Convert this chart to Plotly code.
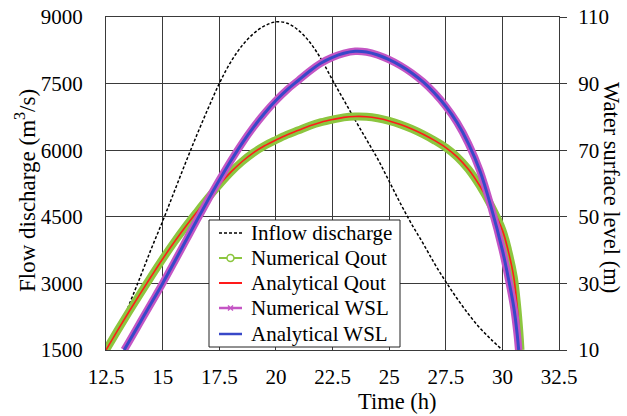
import plotly.graph_objects as go

# ---------------- data ----------------
inflow_t = [13.45, 14.0, 14.5, 15.0, 15.5, 16.0, 16.5, 17.0, 17.5, 18.0, 18.5, 19.0,
            19.5, 20.0, 20.5, 21.0, 21.5, 22.0, 22.5, 23.0, 23.5, 24.0, 24.5, 25.0,
            25.5, 26.0, 26.5, 27.0, 27.5, 28.0, 28.5, 29.0, 29.5, 30.0]
inflow_q = [2430, 3130, 3780, 4400, 5050, 5700, 6330, 6930, 7500, 7980, 8350, 8620,
            8800, 8890, 8860, 8700, 8430, 8050, 7580, 7130, 6680, 6240, 5800, 5300,
            4800, 4330, 3900, 3450, 3040, 2660, 2310, 2000, 1740, 1500]

qout_t = [12.5, 13.0, 13.5, 14.0, 14.5, 15.0, 15.5, 16.0, 16.5, 17.0, 17.5, 18.0,
          18.5, 19.0, 19.5, 20.0, 20.5, 21.0, 21.5, 22.0, 22.5, 23.0, 23.5, 24.0,
          24.5, 25.0, 25.5, 26.0, 26.5, 27.0, 27.5, 28.0, 28.5, 29.0, 29.5, 30.0,
          30.25, 30.5, 30.65, 30.75, 30.8]
qout_q = [1500, 1930, 2350, 2760, 3160, 3550, 3920, 4270, 4600, 4920, 5220, 5500,
          5740, 5940, 6100, 6230, 6350, 6450, 6550, 6630, 6690, 6740, 6760, 6755,
          6720, 6660, 6580, 6480, 6360, 6220, 6060, 5850, 5570, 5200, 4750, 4200,
          3750, 3150, 2500, 1900, 1500]

wsl_t = [13.3, 13.5, 14.0, 14.5, 15.0, 15.5, 16.0, 16.5, 17.0, 17.5, 18.0, 18.5,
         19.0, 19.5, 20.0, 20.5, 21.0, 21.5, 22.0, 22.5, 23.0, 23.5, 24.0, 24.5,
         25.0, 25.5, 26.0, 26.5, 27.0, 27.5, 28.0, 28.5, 29.0, 29.5, 30.0, 30.25,
         30.5, 30.65, 30.72]
wsl_h = [10, 12.3, 18.2, 24.1, 30, 36.2, 42.5, 48.8, 55, 61, 66.7, 72,
         76.8, 81.1, 84.9, 88.2, 91.0, 93.8, 96.2, 97.9, 99.1, 99.7, 99.5, 98.6,
         97.2, 95.4, 93.2, 90.5, 87.2, 83.2, 78.3, 72.0, 64, 53, 40, 32,
         23, 15, 10]

x_ticks = [12.5, 15, 17.5, 20, 22.5, 25, 27.5, 30, 32.5]
y1_ticks = [1500, 3000, 4500, 6000, 7500, 9000]
y2_ticks = [10, 30, 50, 70, 90, 110]

legend_names = ["Inflow discharge", "Numerical Qout", "Analytical Qout",
                "Numerical WSL", "Analytical WSL"]

# ---------------- styles ----------------
FONT = "Liberation Serif, Times New Roman, serif"
GRID = "#3a3a3a"
GREEN = "#8cc63f"
RED = "#ff1a1a"
MAGENTA = "#c455c4"
BLUE = "#3848c8"

W, H = 627, 416
L, R, T, B = 106, 68, 17, 66
PW, PH = W - L - R, H - T - B


def px(x):
    return (x - L) / PW


def py(y):
    return (H - B - y) / PH


fig = go.Figure()

fig.add_trace(go.Scatter(x=inflow_t, y=inflow_q, mode="lines", name=legend_names[0],
                         line=dict(color="black", width=1.5, dash="3px,2px"),
                         line_shape="spline"))
fig.add_trace(go.Scatter(x=qout_t, y=qout_q, mode="lines", name=legend_names[1],
                         line=dict(color=GREEN, width=8), line_shape="spline"))
fig.add_trace(go.Scatter(x=qout_t, y=qout_q, mode="lines", name=legend_names[2],
                         line=dict(color=RED, width=1.6), line_shape="spline"))
fig.add_trace(go.Scatter(x=wsl_t, y=wsl_h, mode="lines", name=legend_names[3], yaxis="y2",
                         line=dict(color=MAGENTA, width=7.5), line_shape="spline"))
fig.add_trace(go.Scatter(x=wsl_t, y=wsl_h, mode="lines", name=legend_names[4], yaxis="y2",
                         line=dict(color=BLUE, width=3), line_shape="spline"))

# ---------------- hand-drawn legend (box, samples, texts) ----------------
shapes = [dict(type="rect", xref="paper", yref="paper", layer="above",
               x0=px(209), x1=px(400), y0=py(347), y1=py(220),
               fillcolor="white", line=dict(color="#222", width=1))]
row_y = [233, 258, 283, 308, 334]
sample_styles = [dict(color="black", width=1.5, dash="3px,2px"),
                 dict(color=GREEN, width=2), dict(color=RED, width=2),
                 dict(color=MAGENTA, width=2.5), dict(color=BLUE, width=2.5)]
annotations = []
for i, (name, yy, st) in enumerate(zip(legend_names, row_y, sample_styles)):
    shapes.append(dict(type="line", xref="paper", yref="paper", layer="above",
                       x0=px(219), x1=px(242), y0=py(yy), y1=py(yy), line=st))
    annotations.append(dict(text=name, xref="paper", yref="paper", x=px(249), y=py(yy),
                            xanchor="left", yanchor="middle", showarrow=False,
                            font=dict(size=21)))
# circle marker (Numerical Qout) and x marker (Numerical WSL)
shapes.append(dict(type="circle", xref="paper", yref="paper", layer="above",
                   x0=px(227), x1=px(234), y0=py(row_y[1] + 3.5), y1=py(row_y[1] - 3.5),
                   fillcolor="white", line=dict(color=GREEN, width=1.5)))
for dx in (-1, 1):
    shapes.append(dict(type="line", xref="paper", yref="paper", layer="above",
                       x0=px(230.5 - 2.5), x1=px(230.5 + 2.5),
                       y0=py(row_y[3] - 2.5 * dx), y1=py(row_y[3] + 2.5 * dx),
                       line=dict(color=MAGENTA, width=1.5)))

annotations += [
    dict(text="Time (h)", xref="paper", yref="paper", x=px(397), y=py(401),
         xanchor="center", yanchor="middle", showarrow=False, font=dict(size=22.5)),
    dict(text="Flow discharge (m<sup>3</sup>/s)", xref="paper", yref="paper",
         x=px(25), y=py(191), textangle=-90,
         xanchor="center", yanchor="middle", showarrow=False, font=dict(size=23)),
    dict(text="Water surface level (m)", xref="paper", yref="paper",
         x=px(612), y=py(187), textangle=90,
         xanchor="center", yanchor="middle", showarrow=False, font=dict(size=22.5)),
]

fig.update_layout(
    width=W, height=H,
    margin=dict(l=L, r=R, t=T, b=B, pad=0, autoexpand=False),
    paper_bgcolor="white", plot_bgcolor="white",
    font=dict(family=FONT, size=21, color="black"),
    showlegend=False,
    shapes=shapes,
    annotations=annotations,
    xaxis=dict(range=[12.5, 32.5], tickvals=x_ticks, ticktext=[f"{v:g}" for v in x_ticks],
               showgrid=True, gridcolor=GRID, gridwidth=1, zeroline=False,
               showline=True, linecolor=GRID, linewidth=1, mirror=True, automargin=False,
               ticks="", ticklabelstandoff=8, tickfont=dict(size=21)),
    yaxis=dict(range=[1500, 9000], tickvals=y1_ticks, ticktext=[str(v) for v in y1_ticks],
               showgrid=True, gridcolor=GRID, gridwidth=1, zeroline=False,
               showline=True, linecolor=GRID, linewidth=1, mirror=True, automargin=False,
               ticks="", ticklabelstandoff=18, tickfont=dict(size=21)),
    yaxis2=dict(range=[10, 110], tickvals=y2_ticks, ticktext=[str(v) for v in y2_ticks],
                overlaying="y", side="right", showgrid=False, zeroline=False,
                showline=False, ticks="outside", ticklen=7, tickcolor=GRID, automargin=False,
                ticklabelstandoff=7, tickfont=dict(size=21)),
)

fig.write_html("out.html", config={"displayModeBar": False},
               post_script="document.body.style.margin='0px';document.body.style.overflow='hidden';")
